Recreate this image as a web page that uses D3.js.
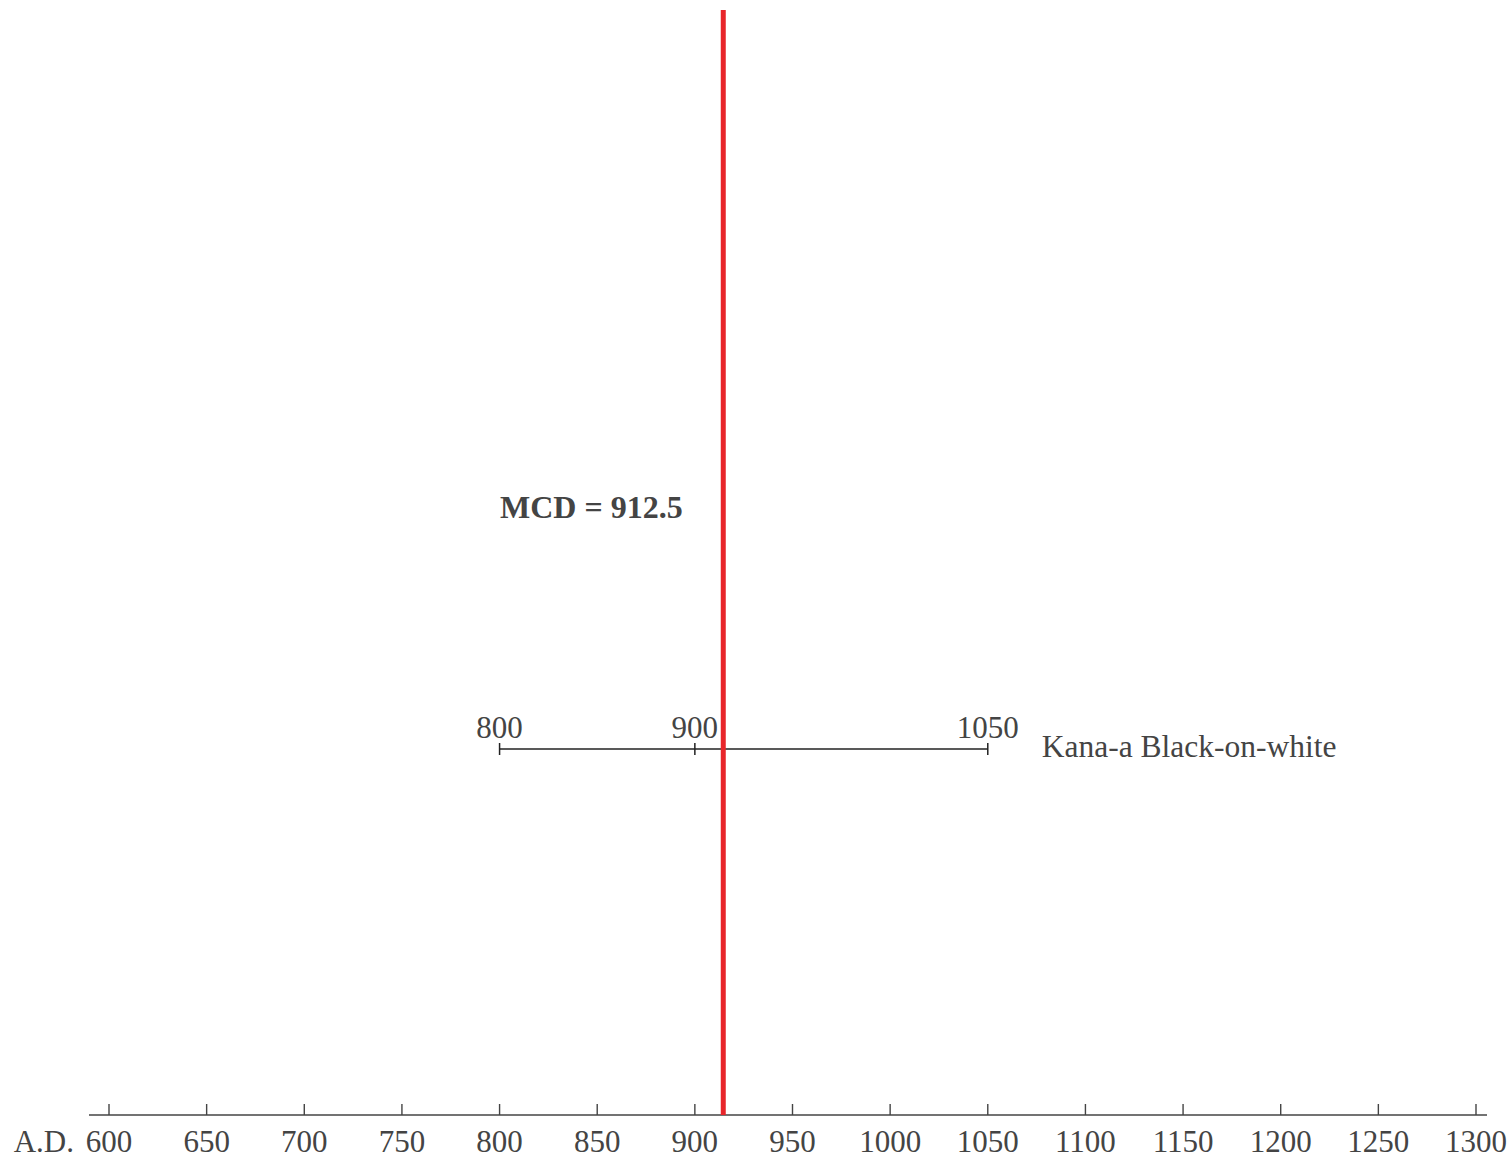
<!DOCTYPE html>
<html>
<head>
<meta charset="utf-8">
<script src="https://cdn.jsdelivr.net/npm/d3@7"></script>
<style>
  body { margin: 0; background: #fff; }
  text { font-family: "Liberation Serif", "Times New Roman", serif; fill: #444; }
</style>
</head>
<body>
<svg id="chart"></svg>
<script>
// Data
const axisTicks = [600, 650, 700, 750, 800, 850, 900, 950, 1000, 1050, 1100, 1150, 1200, 1250, 1300];
const wareNames = ['Kana-a Black-on-white'];
const wareStart = [800];
const wareMid = [900];
const wareEnd = [1050];
const mcdValue = 912.5;

const width = 1511;
const height = 1161;
const axisY = 1115;

const svg = d3.select('#chart')
    .attr('width', width)
    .attr('height', height);

const x = d3.scaleLinear()
    .domain([600, 1300])
    .range([109, 1476]);

// Axis
const gAxis = svg.append('g').attr('transform', `translate(0, ${axisY})`);
gAxis.append('line')
    .attr('x1', 89).attr('x2', 1487)
    .attr('stroke', '#444').attr('stroke-width', 1.6);
gAxis.selectAll('line.tick')
    .data(axisTicks)
    .enter()
    .append('line')
    .attr('class', 'tick')
    .attr('x1', d => x(d)).attr('x2', d => x(d))
    .attr('y1', 0).attr('y2', -11)
    .attr('stroke', '#444').attr('stroke-width', 1.4);
gAxis.selectAll('text.label')
    .data(axisTicks)
    .enter()
    .append('text')
    .attr('class', 'label')
    .attr('x', d => x(d))
    .attr('y', 37)
    .attr('text-anchor', 'middle')
    .style('font-size', '31px')
    .text(d => d);
gAxis.append('text')
    .attr('x', 74).attr('y', 37)
    .attr('text-anchor', 'end')
    .style('font-size', '31px')
    .text('A.D.');

// Range bars
const rowY = 749;
const gRows = svg.append('g');
wareNames.forEach((name, i) => {
    const g = gRows.append('g').attr('transform', `translate(0, ${rowY + i * 60})`);
    g.append('line')
        .attr('x1', x(wareStart[i])).attr('x2', x(wareEnd[i]))
        .attr('stroke', '#222').attr('stroke-width', 1.5);
    [wareStart[i], wareMid[i], wareEnd[i]].forEach(v => {
        g.append('line')
            .attr('x1', x(v)).attr('x2', x(v))
            .attr('y1', -6).attr('y2', 6)
            .attr('stroke', '#222').attr('stroke-width', 1.5);
        g.append('text')
            .attr('x', x(v)).attr('y', -11)
            .attr('text-anchor', 'middle')
            .style('font-size', '31px')
            .text(v);
    });
    g.append('text')
        .attr('x', x(wareEnd[i]) + 54).attr('y', 8)
        .style('font-size', '31.5px')
        .text(name);
});

// MCD line
svg.append('line')
    .attr('x1', x(mcdValue) + 4).attr('x2', x(mcdValue) + 4)
    .attr('y1', 10).attr('y2', axisY)
    .attr('stroke', '#e8262b').attr('stroke-width', 5);

svg.append('text')
    .attr('x', 500).attr('y', 518)
    .style('font-size', '32px')
    .style('font-weight', 'bold')
    .text(`MCD = ${mcdValue}`);
</script>
</body>
</html>
